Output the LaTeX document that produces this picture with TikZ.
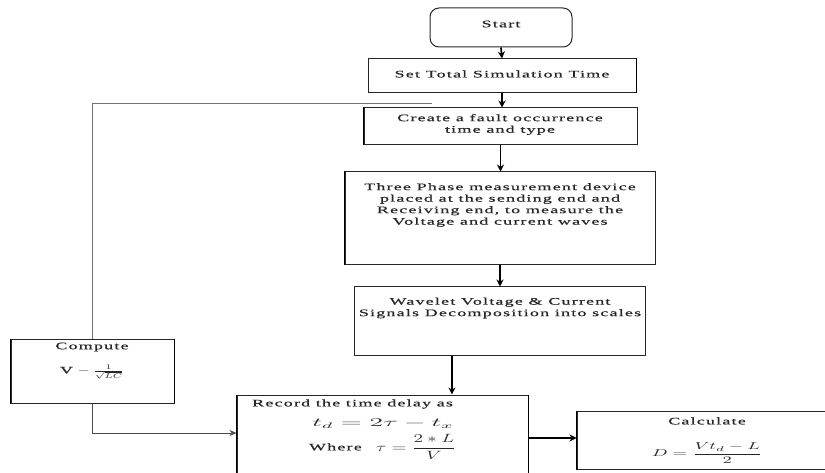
\documentclass[tikz,border=0pt]{standalone}
\usepackage{fontspec}
\setmainfont{Liberation Serif}[FakeStretch=1.8,LetterSpace=12,FakeBold=0.6]
\usepackage{graphicx}
\usetikzlibrary{arrows.meta,calc}

% widened math, to sit with the stretched text face
\newcommand{\wm}[2][1.7]{\scalebox{#1}[1]{$#2$}}

\tikzset{
  box/.style={draw=black!85, line width=1pt, inner sep=0pt, fill=none},
  edge/.style={draw=black, line width=1.8pt},
  txt/.style={align=center, inner sep=0pt, text=black!85, font=\fontsize{10}{11.5}\selectfont},
  mtxt/.style={txt, font=\fontsize{12}{14}\selectfont},
  arr/.style={-{Stealth[length=7pt,width=7pt]}, line width=1.7pt},
  thinarr/.style={-{Stealth[length=7pt,width=6pt]}, line width=0.9pt, draw=black!70},
  fb/.style={draw=black!55, line width=0.7pt}
}

\begin{document}
\begin{tikzpicture}[x=1pt,y=-1pt]
\useasboundingbox (0,0) rectangle (825,473);

% ---- boxes ----
\node[box, rounded corners=9pt, minimum width=142pt, minimum height=39pt] (start) at (501,27.5) {};
\node[box, minimum width=268pt, minimum height=34pt] (set)   at (502,76) {};
\node[box, minimum width=273pt, minimum height=37pt] (fault) at (500.5,126.5) {};
\node[box, minimum width=310pt, minimum height=93pt] (meas)  at (500,218.5) {};
\node[box, minimum width=291pt, minimum height=68pt] (wav)   at (499.5,321) {};
\node[box, minimum width=291pt, minimum height=86pt] (rec)   at (382.5,438) {};
\node[box, minimum width=260pt, minimum height=58pt] (calc)  at (707,440) {};
\node[box, minimum width=163pt, minimum height=64pt] (comp)  at (92.5,371) {};

% heavier vertical edges
\draw[edge] (set.north east) -- (set.south east);
\draw[edge] (fault.north west) -- (fault.south west);
\draw[edge] (meas.north west) -- (meas.south west);
\draw[edge] (rec.north west) -- (rec.south west);
\draw[edge] (rec.north east) -- (rec.south east);
\draw[edge] (calc.north west) -- (calc.south west);
\draw[edge] (comp.north west) -- (comp.south west);
\draw[edge] (comp.north east) -- (comp.south east);

% ---- texts ----
\node[txt] (tstart) at (501,24) {Start};
\node[txt] (tset) at (502,74) {Set Total Simulation Time};
\node[txt] (tfault) at (500,124.5) {Create a fault occurrence\\time and type};
\node[txt] (tmeas) at (500,205) {Three Phase measurement device\\placed at the sending end and\\Receiving end, to measure the\\Voltage and current waves};
\node[txt] (twav) at (500,308) {Wavelet Voltage \& Current\\Signals Decomposition into scales};
\node[txt, anchor=west] (trec) at (252,404) {Record the time delay as};
\node[mtxt] (ttd) at (383,424) {\wm[2.3]{t_d = 2\tau - t_x}};
\node[txt, anchor=east] (twhere) at (362,447) {Where};
\node[mtxt, anchor=west] (ttau) at (376,447) {\wm[1.6]{\tau = \displaystyle\frac{2 * L}{V}}};
\node[txt] (tcalc) at (707,421) {Calculate};
\node[txt] (tdist) at (707,453) {\wm[1.85]{D = \displaystyle\frac{V t_d - L}{2}}};
\node[txt] (tcomp) at (92,347) {Compute};
\node[txt] (tvel) at (92,372) {V\,\wm[1.5]{{}-\frac{1}{\sqrt{LC}}}};

% ---- connectors ----
\draw[arr] (start.south) -- (set.north);
\draw[arr] (set.south) -- (set.south |- fault.north);
\draw[arr] (fault.south) -- (fault.south |- meas.north);
\draw[arr] (meas.south) -- (meas.south |- wav.north);
\coordinate (wavout) at ($(wav.south west)!0.337!(wav.south east)$);
\draw[arr] (wavout) -- (wavout |- rec.north);
\draw[arr] (rec.east) -- (rec.east -| calc.west);
\draw[thinarr] (comp.south) |- ($(rec.west)+(0,-5)$);
\coordinate (fbend) at (432,103);
\draw[fb] (comp.north) |- (fbend);
\end{tikzpicture}
\end{document}
